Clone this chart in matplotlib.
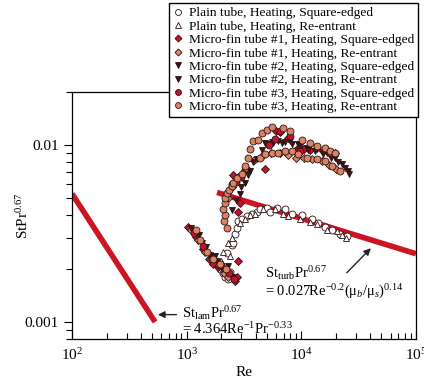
import matplotlib
matplotlib.use('Agg')
import matplotlib.pyplot as plt
from matplotlib.ticker import FormatStrFormatter, NullFormatter, LogLocator

plt.rcParams['font.family'] = 'Liberation Serif'
plt.rcParams['mathtext.fontset'] = 'custom'
plt.rcParams['mathtext.rm'] = 'Liberation Serif'
plt.rcParams['mathtext.it'] = 'Liberation Serif:italic'
plt.rcParams['mathtext.bf'] = 'Liberation Serif:bold'

# correlation lines
lam_re = [100, 530]
lam_st = [0.0053, 0.001]
turb_re = [1840, 100000]
turb_st = [0.0054, 0.00243]

# plain tube
plain_se_re = [1950, 2070, 2160, 2240, 2300, 2400, 1880, 2480, 2530, 2640, 2760, 2800, 3030, 3360, 3720,
               4100, 4350, 5010, 5330, 6130, 7200, 8280, 10100, 12400, 14000, 16000, 18500, 21700, 25000]
plain_se_st = [0.0020, 0.0019, 0.0018, 0.00245, 0.00176, 0.00192, 0.0021, 0.00274, 0.0028, 0.00316, 0.00338,
               0.0037, 0.0038, 0.00395, 0.0041, 0.0042, 0.00433, 0.00439, 0.0042, 0.00439, 0.00433, 0.0041,
               0.0040, 0.0038, 0.00361, 0.00346, 0.00333, 0.00316, 0.00308]
plain_re_re = [2000, 2200, 2070, 2400, 2300, 2480, 2920, 3240, 3570, 3940, 4620, 5890, 6920, 7640, 9730,
               11900, 13700, 16700, 20400, 22600, 24500]
plain_re_st = [0.0022, 0.0020, 0.0025, 0.00235, 0.0028, 0.0030, 0.00361, 0.0038, 0.00405, 0.0041, 0.00433,
               0.00433, 0.0041, 0.00395, 0.0038, 0.00366, 0.00356, 0.00333, 0.00325, 0.0031, 0.0030]

# micro-fin tube #1
mf1_se_re = [1020, 1200, 1380, 1550, 1700, 1880, 2160, 2400, 2640, 2760, 2800, 2530, 2920, 2800, 3240, 4820,
             6000, 6500, 7600, 9100, 10500, 12000, 15500, 19500]
mf1_se_st = [0.00346, 0.00304, 0.0026, 0.00226, 0.00214, 0.00204, 0.00192, 0.00185, 0.0017, 0.0018, 0.0022,
             0.0068, 0.0047, 0.0042, 0.0072, 0.0073, 0.0120, 0.0118, 0.0110, 0.0095, 0.0095, 0.0094, 0.0093, 0.0090]
mf1_re_re = [1100, 1250, 1450, 1650, 1900, 2100, 2300, 2300, 2500, 2800, 3300, 3900, 4600, 5400, 6500, 7700,
             9000, 10500, 12500, 15000, 17500, 20000]
mf1_re_st = [0.0033, 0.0029, 0.0025, 0.0023, 0.0021, 0.0019, 0.0018, 0.0050, 0.0058, 0.0066, 0.0074, 0.0082,
             0.0088, 0.0090, 0.0090, 0.0088, 0.0085, 0.0085, 0.0083, 0.0081, 0.0077, 0.0073]

# micro-fin tube #2
mf2_se_re = [1270, 1480, 1770, 2300, 2920, 3240, 3570, 4100, 4820, 5660, 6780, 7950, 9340, 11200, 13700,
             16700, 19600, 22600, 25500]
mf2_se_st = [0.0031, 0.00267, 0.00235, 0.00206, 0.0053, 0.0061, 0.0071, 0.00833, 0.01027, 0.01027, 0.01027,
             0.01054, 0.0101, 0.0096, 0.0095, 0.0090, 0.00844, 0.0078, 0.0071]
mf2_re_re = [1100, 1350, 1600, 1850, 2050, 2250, 2500, 2500, 2700, 3000, 3400, 3800, 4500, 4900, 5600, 6300,
             7200, 8300, 9800, 11500, 13200, 15500, 18000, 21000, 24000, 26000]
mf2_re_st = [0.0034, 0.0028, 0.0024, 0.0022, 0.0020, 0.0019, 0.0018, 0.0043, 0.0049, 0.0058, 0.0068, 0.0080,
             0.0094, 0.0101, 0.0104, 0.0106, 0.0104, 0.0101, 0.0098, 0.0094, 0.0092, 0.0089, 0.0085, 0.0080,
             0.0074, 0.0069]

# micro-fin tube #3
mf3_se_re = [1150, 1400, 1700, 2000, 2350, 2600, 2500, 2700, 3000, 5200, 5900, 6500, 7900, 8800, 9700, 13700, 17800]
mf3_se_st = [0.0032, 0.0027, 0.0023, 0.0021, 0.0019, 0.00175, 0.0060, 0.0062, 0.0066, 0.0100, 0.0108, 0.0120,
             0.0113, 0.0093, 0.0092, 0.0097, 0.0090]
mf3_re_re = [1200, 1300, 1500, 1700, 1950, 2200, 2240, 2100, 2160, 2070, 2160, 2160, 2240, 2340, 2480, 2530,
             2760, 3030, 3240, 3430, 3570, 3790, 4180, 4530, 5010, 5540, 6920, 7950, 10100, 11900, 13700, 16000,
             17800, 19600, 4350, 4820, 5540, 6250, 7200, 8280, 9340, 11200, 13700, 16000, 18500, 21700]
mf3_re_st = [0.00333, 0.0029, 0.0025, 0.00226, 0.00214, 0.0020, 0.00338, 0.0037, 0.00405, 0.00433, 0.0047,
             0.0050, 0.00534, 0.0056, 0.00585, 0.0061, 0.0065, 0.0069, 0.0076, 0.0084, 0.0095, 0.01054, 0.01068,
             0.0117, 0.01217, 0.01265, 0.0125, 0.0120, 0.01068, 0.01027, 0.0099, 0.0096, 0.00925, 0.0090,
             0.00844, 0.0089, 0.0090, 0.0090, 0.00925, 0.00925, 0.0089, 0.00844, 0.00833, 0.0081, 0.0076, 0.0071]

labels = ['Plain tube, Heating, Square-edged',
          'Plain tube, Heating, Re-entrant',
          'Micro-fin tube #1, Heating, Square-edged',
          'Micro-fin tube #1, Heating, Re-entrant',
          'Micro-fin tube #2, Heating, Square-edged',
          'Micro-fin tube #2, Heating, Re-entrant',
          'Micro-fin tube #3, Heating, Square-edged',
          'Micro-fin tube #3, Heating, Re-entrant']

red = '#c8102e'
salmon = '#d98466'
edge = '#2a1212'

fig = plt.figure(figsize=(4.24, 3.81), dpi=100)
ax = fig.add_axes([0.170, 0.110, 0.811, 0.649])

ax.plot(lam_re, lam_st, color='#cc1422', lw=4, solid_capstyle='butt', zorder=1)
ax.plot(turb_re, turb_st, color='#cc1422', lw=4, solid_capstyle='butt', zorder=1)

ms = 5
mew = 0.6
series = [
    (plain_se_re, plain_se_st, 'o', 'white'),
    (plain_re_re, plain_re_st, '^', 'white'),
    (mf1_se_re, mf1_se_st, 'D', red),
    (mf1_re_re, mf1_re_st, 'D', salmon),
    (mf2_se_re, mf2_se_st, 'v', '#2b1414'),
    (mf2_re_re, mf2_re_st, 'v', '#4a1414'),
    (mf3_se_re, mf3_se_st, 'o', red),
    (mf3_re_re, mf3_re_st, 'o', salmon),
]
handles = []
for (x, y, m, c), lab in zip(series, labels):
    size = ms - 0.8 if m == 'D' else ms
    h, = ax.plot(x, y, ls='none', marker=m, ms=size, mfc=c, mec=edge, mew=mew, label=lab, zorder=3)
    handles.append(h)

ax.set_xscale('log')
ax.set_yscale('log')
ax.set_xlim(100, 100000)
ax.set_ylim(0.0008, 0.02)

ax.yaxis.set_major_formatter(FormatStrFormatter('%g'))
ax.yaxis.set_minor_formatter(NullFormatter())
ax.xaxis.set_minor_locator(LogLocator(subs=range(2, 10)))
ax.xaxis.set_minor_formatter(NullFormatter())

ax.tick_params(axis='x', which='both', direction='in', labelsize=11, pad=6)
ax.tick_params(axis='x', which='major', length=6, width=0.8)
ax.tick_params(axis='x', which='minor', length=4, width=0.8)
ax.tick_params(axis='y', which='both', direction='out', labelsize=11)
ax.tick_params(axis='y', which='major', length=6, width=0.8)
ax.tick_params(axis='y', which='minor', length=4, width=0.8)
for s in ax.spines.values():
    s.set_linewidth(0.9)

ax.set_xlabel('Re', fontsize=11, labelpad=2)
ax.set_ylabel('StPr$^{0.67}$', fontsize=11)
ax.yaxis.set_label_coords(-0.12, 0.5)

# labels of the correlations
ax.text(910, 0.00106, r'St$_{\mathrm{lam}}$Pr$^{0.67}$', fontsize=10.5, va='baseline')
ax.text(910, 0.00086, r'= 4.364Re$^{-1}$Pr$^{-0.33}$', fontsize=10.5, va='baseline')
ax.annotate('', xy=(530, 0.0011), xytext=(860, 0.0011),
            arrowprops=dict(arrowstyle='-|>', color='#222222', lw=1.0, mutation_scale=10))

ax.text(4820, 0.00178, r'St$_{\mathrm{turb}}$Pr$^{0.67}$', fontsize=10.5, va='baseline')
ax.text(4820, 0.00141, r'= 0.027Re$^{-0.2}$(μ$_{b}$/μ$_{s}$)$^{0.14}$', fontsize=10.5, va='baseline')
ax.annotate('', xy=(42000, 0.00268), xytext=(24000, 0.00185),
            arrowprops=dict(arrowstyle='-|>', color='#222222', lw=1.0, mutation_scale=10))

fig.legend(handles=handles, loc='upper right', bbox_to_anchor=(418 / 424, 1 - 3 / 381),
           fontsize=9.6, labelspacing=0.08, handlelength=0.8, handletextpad=0.4, borderpad=0.3,
           borderaxespad=0, fancybox=False, framealpha=1, edgecolor='black', markerscale=0.85)

fig.savefig('out.png', dpi=100)
